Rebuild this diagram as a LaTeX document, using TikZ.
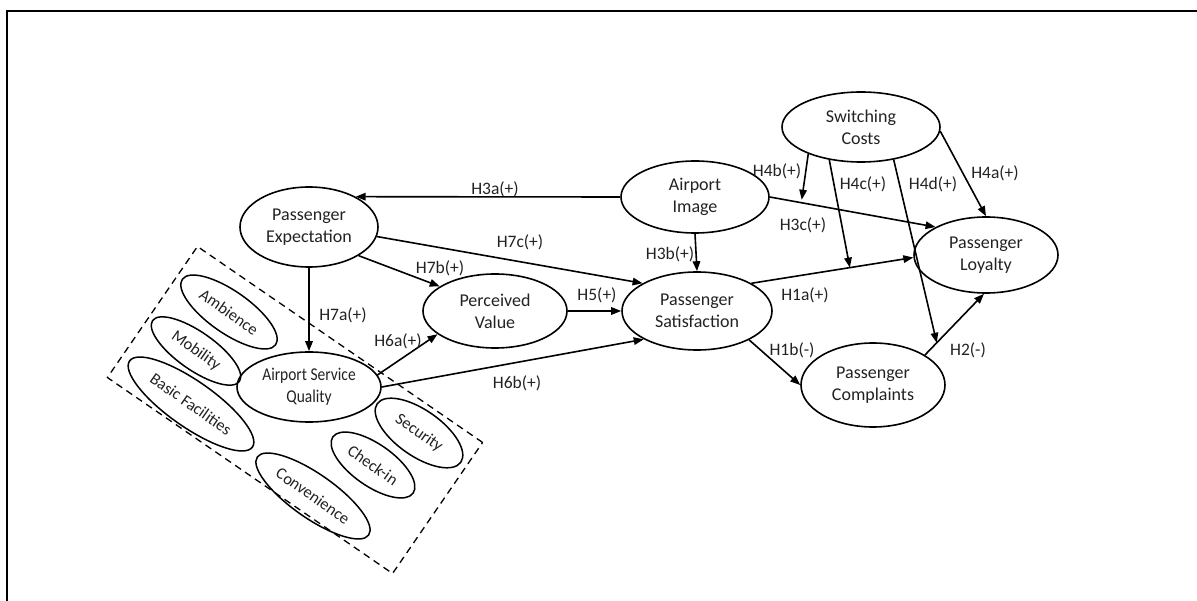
\documentclass[tikz,border=0pt]{standalone}
\usepackage{fontspec}
\setmainfont{Carlito}
\usetikzlibrary{shapes.geometric,arrows.meta,calc}
\definecolor{ink}{HTML}{222222}
\begin{document}
\begin{tikzpicture}[x=1pt,y=-1pt,
  construct/.style={ellipse,draw,line width=1.6pt,inner sep=0pt,align=center,
    font=\fontsize{18}{22}\selectfont,text=ink},
  facet/.style={ellipse,draw,line width=1.5pt,inner sep=0pt,
    font=\fontsize{16.5}{20}\selectfont,text=ink,rotate=-35},
  link/.style={line width=1.6pt,-{Triangle[length=10pt,width=7.5pt]}},
  hyp/.style={font=\fontsize{17.5}{20}\selectfont,text=ink,inner sep=0pt},
]
\useasboundingbox (0,0) rectangle (1197,601);
% page frame
\draw[line width=2pt] (7,601) -- (7,11) -- (1197,11);

% dashed group of service-quality dimensions
\node[draw,line width=1.3pt,dash pattern=on 7pt off 5pt,minimum width=346pt,
  minimum height=159pt,rotate=-34.5] (grp) at (295,410) {};

% constructs
\node[construct,minimum width=158pt,minimum height=70pt] (sw) at (861,127) {Switching\\Costs};
\node[construct,minimum width=148pt,minimum height=72pt] (img) at (695,197) {Airport\\Image};
\node[construct,minimum width=138pt,minimum height=80pt] (exp) at (309,227) {Passenger\\Expectation};
\node[construct,minimum width=144pt,minimum height=74pt] (pv) at (495,311) {Perceived\\Value};
\node[construct,minimum width=150pt,minimum height=78pt] (sat) at (697,311) {Passenger\\Satisfaction};
\node[construct,minimum width=144pt,minimum height=76pt] (loy) at (986,255) {Passenger\\Loyalty};
\node[construct,minimum width=144pt,minimum height=84pt] (comp) at (873,385) {Passenger\\Complaints};
\node[construct,minimum width=144pt,minimum height=70pt] (asq) at (309,387)
  {\scalebox{0.86}[1]{Airport Service}\\\scalebox{0.86}[1]{Quality}};

% service-quality dimensions
\node[facet,minimum width=114pt,minimum height=42pt] (amb) at (229,312) {Ambience};
\node[facet,minimum width=106pt,minimum height=38pt] (mob) at (196,351) {Mobility};
\node[facet,minimum width=150pt,minimum height=46pt] (bas) at (191,404) {Basic Facilities};
\node[facet,minimum width=136pt,minimum height=44pt] (conv) at (313,496) {Convenience};
\node[facet,minimum width=98pt,minimum height=42pt] (chk) at (373,465) {Check-in};
\node[facet,minimum width=102pt,minimum height=46pt] (sec) at (419,433) {Security};

% direct paths
\draw[link] (img.west) -- (exp.33);
\draw[link] (exp.-8) -- (sat.153);
\draw[link] (exp.-30) -- (pv.156);
\draw[link] (exp.south) -- (asq.north);
\draw[link] (asq.10) -- (pv.202);
\draw[link] (asq.east) -- (sat.208);
\draw[link] (pv.east) -- (sat.west);
\draw[link] (img.south) -- (sat.north);
\draw[link] (img.east) -- (loy.151) coordinate[pos=0.19] (m3c);
\draw[link] (sat.27) -- (loy.182) coordinate[pos=0.608] (m1a);
\draw[link] (sat.-29) -- (comp.west);
\draw[link] (comp.30) -- (loy.-93) coordinate[pos=0.2] (m2);
\draw[link] (sw.-3) -- (loy.north);

% moderating paths of switching costs
\draw[link,shorten >=3pt] (sw.-153) -- (m3c);
\draw[link] (sw.-134) -- (m1a);
\draw[link] (sw.-45) -- (m2);

% hypothesis labels
\node[hyp] (l3a) at (495,189) {H3a(+)};
\node[hyp] (l7c) at (520,242) {H7c(+)};
\node[hyp] (l7b) at (440,268) {H7b(+)};
\node[hyp] (l7a) at (343,315) {H7a(+)};
\node[hyp] (l6a) at (398,341) {H6a(+)};
\node[hyp] (l5) at (597,295) {H5(+)};
\node[hyp] (l6b) at (517,383) {H6b(+)};
\node[hyp] (l3b) at (670,254) {H3b(+)};
\node[hyp] (l3c) at (803,225) {H3c(+)};
\node[hyp] (l4b) at (777,171) {H4b(+)};
\node[hyp] (l4c) at (863,184) {H4c(+)};
\node[hyp] (l4d) at (933,184) {H4d(+)};
\node[hyp] (l4a) at (995,173) {H4a(+)};
\node[hyp] (l1a) at (805,295) {H1a(+)};
\node[hyp] (l1b) at (792,350) {H1b(-)};
\node[hyp] (l2) at (968,350) {H2(-)};
\end{tikzpicture}
\end{document}
